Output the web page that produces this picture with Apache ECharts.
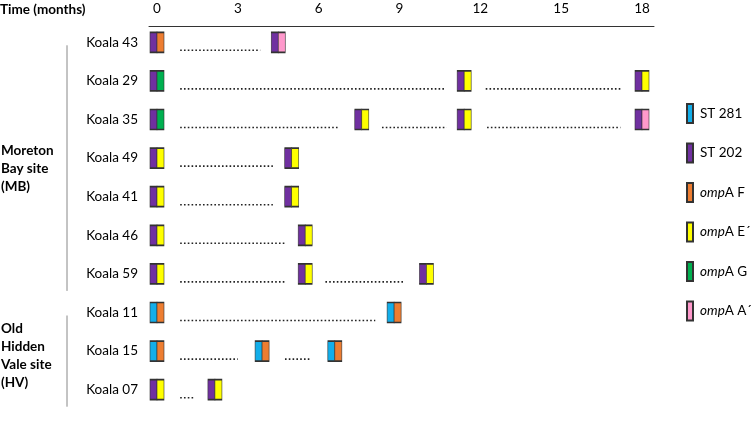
<!DOCTYPE html>
<html><head><meta charset="utf-8">
<script src="https://cdn.jsdelivr.net/npm/echarts@6/dist/echarts.min.js"></script>
<style>html,body{margin:0;padding:0;background:#fff}#c{width:751px;height:422px}</style>
</head><body><div id="c"></div>
<script>
// ---- data ----
const koalas = ['Koala 43','Koala 29','Koala 35','Koala 49','Koala 41','Koala 46','Koala 59','Koala 11','Koala 15','Koala 07'];
const visitMonths = [
  [0, 4.5],
  [0, 11.4, 18],
  [0, 7.6, 11.4, 18],
  [0, 5.0],
  [0, 5.0],
  [0, 5.5],
  [0, 5.5, 10.0],
  [0, 8.8],
  [0, 3.9, 6.6],
  [0, 2.15]
];
const stTypes = [
  ['ST 202','ST 202'],
  ['ST 202','ST 202','ST 202'],
  ['ST 202','ST 202','ST 202','ST 202'],
  ['ST 202','ST 202'],
  ['ST 202','ST 202'],
  ['ST 202','ST 202'],
  ['ST 202','ST 202','ST 202'],
  ['ST 281','ST 281'],
  ['ST 281','ST 281','ST 281'],
  ['ST 202','ST 202']
];
const ompTypes = [
  ['ompA F','ompA A´'],
  ['ompA G','ompA E´','ompA E´'],
  ['ompA G','ompA E´','ompA E´','ompA A´'],
  ['ompA E´','ompA E´'],
  ['ompA E´','ompA E´'],
  ['ompA E´','ompA E´'],
  ['ompA E´','ompA E´','ompA E´'],
  ['ompA F','ompA F'],
  ['ompA F','ompA F','ompA F'],
  ['ompA E´','ompA E´']
];
// dotted spans (months) between sampling points
const dottedSpans = [
  [[0.86, 3.83]],
  [[0.86, 10.7], [12.2, 17.2]],
  [[0.86, 6.75], [8.35, 10.75], [12.25, 17.2]],
  [[0.86, 4.3]],
  [[0.86, 4.3]],
  [[0.86, 4.75]],
  [[0.86, 4.75], [6.25, 9.2]],
  [[0.86, 8.1]],
  [[0.86, 3.0], [4.75, 5.7]],
  [[0.86, 1.4]]
];
const monthTicks = [0, 3, 6, 9, 12, 15, 18];
const groupLabels = [['Moreton','Bay site','(MB)'], ['Old','Hidden','Vale site','(HV)']];
const groupFirst = ['Koala 43', 'Koala 11'];
const groupLast = ['Koala 59', 'Koala 07'];
const legendNames = ['ST 281','ST 202','ompA F','ompA E´','ompA G','ompA A´'];
const legendColors = ['#12AEEA','#7030A0','#ED7D31','#FFFF00','#00B050','#FF99CC'];

// ---- build options ----
const FONT = 'Lato';
const groupLabelShift = [11, 5];
const markSeries = legendNames.map((name, k) => {
  const isST = name.startsWith('ST');
  const data = [];
  koalas.forEach((kname, i) => {
    const types = isST ? stTypes[i] : ompTypes[i];
    visitMonths[i].forEach((m, j) => { if (types[j] === name) data.push([m, kname]); });
  });
  return {
    name, type: 'scatter', xAxisIndex: 0, yAxisIndex: 0,
    symbol: 'rect', symbolSize: [7, 20], symbolOffset: [isST ? -3.5 : 3.5, 0],
    itemStyle: { color: legendColors[k], borderColor: '#333', borderWidth: 1, opacity: 1 },
    emphasis: { disabled: true },
    z: 3, data
  };
});

const dotData = [];
dottedSpans.forEach((spans, i) => spans.forEach(s => dotData.push([s[0], s[1], i])));

const groupData = groupFirst.map((f, g) => [koalas.indexOf(f), koalas.indexOf(groupLast[g]), g]);

const option = {
  animation: false,
  textStyle: { fontFamily: FONT },
  title: { text: 'Time (months)', left: 0, top: 3, padding: 0,
    textStyle: { fontFamily: FONT, fontWeight: 'bold', fontSize: 13.5, color: '#000' } },
  grid: [
    { left: 157, right: 109, top: 23, height: 386 },
    { left: 149, right: 97, top: 25, height: 1 }
  ],
  xAxis: [
    { gridIndex: 0, type: 'value', position: 'top', min: 0, max: 18, interval: 3,
      axisLine: { show: false }, axisTick: { show: false }, splitLine: { show: false },
      axisLabel: { margin: 7, color: '#000', fontSize: 13.5, fontFamily: FONT,
        formatter: v => monthTicks.includes(v) ? String(v) : '' } },
    { gridIndex: 1, type: 'value', position: 'top', min: 0, max: 1,
      axisLine: { show: true, lineStyle: { color: '#333', width: 1 } },
      axisTick: { show: false }, axisLabel: { show: false }, splitLine: { show: false } }
  ],
  yAxis: [
    { gridIndex: 0, type: 'category', data: koalas, inverse: true,
      axisLine: { show: false }, axisTick: { show: false }, splitLine: { show: false },
      axisLabel: { margin: 19, color: '#000', fontSize: 13.5, fontFamily: FONT } },
    { gridIndex: 1, type: 'value', show: false }
  ],
  legend: {
    orient: 'vertical', left: 686, top: 103, padding: 0,
    icon: 'rect', itemWidth: 6, itemHeight: 19, itemGap: 18.5,
    selectedMode: false, data: legendNames,
    formatter: n => n.startsWith('omp') ? '{i|omp}{n|' + n.slice(3) + '}' : '{n|' + n + '}',
    textStyle: { color: '#000', fontSize: 13.5, fontFamily: FONT, padding: [0, 0, 0, 2], lineHeight: 16,
      rich: { i: { fontStyle: 'italic', fontSize: 13.5, fontFamily: FONT, color: '#000', lineHeight: 16 },
              n: { fontSize: 13.5, fontFamily: FONT, color: '#000', lineHeight: 16 } } }
  },
  series: [
    {
      type: 'custom', xAxisIndex: 0, yAxisIndex: 0, silent: true, clip: false, z: 2,
      encode: { x: [0, 1], y: 2 },
      data: dotData,
      renderItem: (params, api) => {
        const p1 = api.coord([api.value(0), api.value(2)]);
        const p2 = api.coord([api.value(1), api.value(2)]);
        const dy = 8;
        return { type: 'line', shape: { x1: p1[0], y1: p1[1] + dy, x2: p2[0], y2: p2[1] + dy },
          style: { stroke: '#222', lineWidth: 1.6, lineDash: [1.6, 2.2] } };
      }
    },
    {
      type: 'custom', xAxisIndex: 0, yAxisIndex: 0, silent: true, clip: false, z: 2,
      encode: { y: [0, 1] },
      data: groupData,
      renderItem: (params, api) => {
        const left = params.coordSys.x;
        const a = api.coord([0, api.value(0)]);
        const b = api.coord([0, api.value(1)]);
        const g = api.value(2);
        const midRow = Math.floor((api.value(0) + api.value(1)) / 2 + 0.5);
        const m = api.coord([0, midRow]);
        return { type: 'group', children: [
          { type: 'line', shape: { x1: left - 90, y1: a[1] + 3, x2: left - 90, y2: b[1] + 17 },
            style: { stroke: '#888', lineWidth: 1 } },
          { type: 'text', style: { text: groupLabels[g].join('\n'), x: left - 156, y: m[1] + groupLabelShift[g],
            align: 'left', verticalAlign: 'middle', lineHeight: 18, fill: '#000',
            font: 'bold 13.5px ' + FONT } }
        ] };
      }
    },
    ...markSeries
  ]
};
const chart = echarts.init(document.getElementById('c'), null, { renderer: 'canvas' });
chart.setOption(option);
</script>
</body></html>
